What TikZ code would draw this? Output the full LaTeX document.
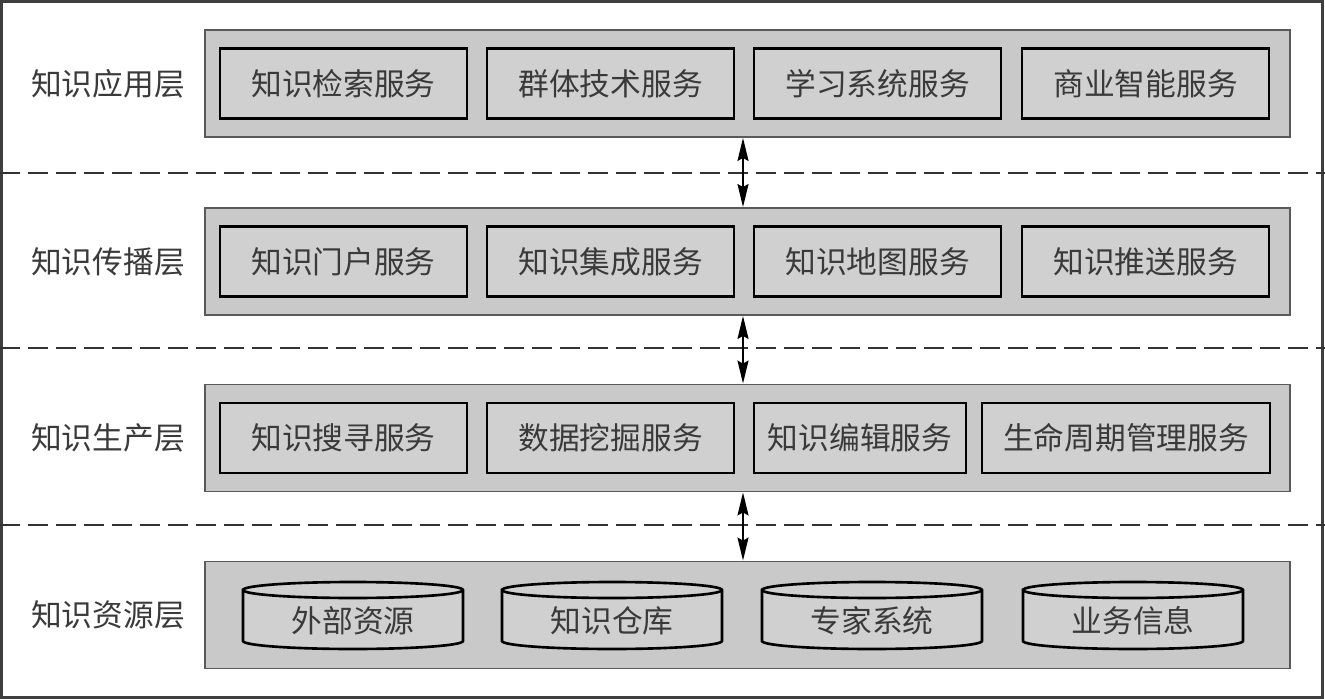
\documentclass[tikz,border=0pt]{standalone}
\usepackage{fontspec}
\setmainfont{Noto Sans CJK SC}
\usepackage{tikz}
\usetikzlibrary{arrows.meta,positioning,calc}
\usepackage{xcolor}
\definecolor{panelgray}{HTML}{C9C9C9}
\definecolor{boxgray}{HTML}{D0D0D0}
\definecolor{edgegray}{HTML}{5A5A5A}
\definecolor{inkgray}{HTML}{3A3A3A}

\begin{document}
\begin{tikzpicture}[x=0.02cm, y=-0.02cm,
  panel/.style={rectangle, draw=edgegray, fill=panelgray, line width=1.1pt,
    minimum width=21.7cm, minimum height=2.14cm, inner sep=0pt},
  svc/.style={rectangle, draw=black, fill=boxgray, line width=1.6pt,
    minimum width=4.94cm, minimum height=1.4cm, inner sep=0pt,
    text=inkgray, font=\fontsize{17.5}{20}\selectfont},
  store/.style={rectangle, inner sep=0pt, yshift=-0.1cm,
    text=inkgray, font=\fontsize{17.5}{20}\selectfont},
  cyl/.style={draw=black, fill=boxgray, line width=1.5pt},
  layer/.style={text=inkgray, font=\fontsize{17.5}{20}\selectfont},
  sep/.style={draw=black!80, line width=0.9pt, dash pattern=on 0.4cm off 0.16cm},
  dblarrow/.style={draw=black, line width=1.1pt,
    {Stealth[length=0.46cm, width=0.22cm, inset=0.06cm]}-{Stealth[length=0.46cm, width=0.22cm, inset=0.06cm]}}
]
  \useasboundingbox (0,0) rectangle (1325,699);
  \draw[edgegray!70!black, line width=1.2pt] (1.5,1.5) rectangle (1322.5,697.5);

  % Layer separators
  \draw[sep] (0,173) -- (1325,173);
  \draw[sep] (0,348) -- (1325,348);
  \draw[sep] (0,525) -- (1325,525);

  % Layer panels
  \node[panel] (p1) at (747.5,83.5) {};
  \node[panel] (p2) at (747.5,261.5) {};
  \node[panel] (p3) at (747.5,438) {};
  \node[panel] (p4) at (747.5,615) {};

  % Layer names
  \node[layer] (l1) at (108,83.5) {知识应用层};
  \node[layer] (l2) at (108,261.5) {知识传播层};
  \node[layer] (l3) at (108,438) {知识生产层};
  \node[layer] (l4) at (108,615) {知识资源层};

  % Application layer
  \node[svc] (a1) at (343.5,83.5) {知识检索服务};
  \node[svc] (a2) at (610.5,83.5) {群体技术服务};
  \node[svc] (a3) at (877.5,83.5) {学习系统服务};
  \node[svc] (a4) at (1145.5,83.5) {商业智能服务};

  % Dissemination layer
  \node[svc] (d1) at (343.5,261.5) {知识门户服务};
  \node[svc] (d2) at (610.5,261.5) {知识集成服务};
  \node[svc] (d3) at (877.5,261.5) {知识地图服务};
  \node[svc] (d4) at (1145.5,261.5) {知识推送服务};

  % Production layer
  \node[svc] (g1) at (343.5,438) {知识搜寻服务};
  \node[svc] (g2) at (610.5,438) {数据挖掘服务};
  \node[svc, minimum width=4.24cm] (g3) at (860,438) {知识编辑服务};
  \node[svc, minimum width=5.76cm] (g4) at (1126,438) {生命周期管理服务};

  % Resource layer (cylinders)
  \coordinate (c1) at (353,615.5);
  \coordinate (c2) at (612,615.5);
  \coordinate (c3) at (872,615.5);
  \coordinate (c4) at (1133,615.5);
  \foreach \c in {c1,c2,c3,c4}{
    \draw[cyl] ($(\c)+(-110,-25.5)$) -- ($(\c)+(-110,25.5)$)
      arc[start angle=180, end angle=360, x radius=2.2cm, y radius=0.16cm]
      -- ($(\c)+(110,-25.5)$)
      arc[start angle=0, end angle=180, x radius=2.2cm, y radius=0.16cm] -- cycle;
    \draw[cyl, fill=none] ($(\c)+(110,-25.5)$)
      arc[start angle=0, end angle=-180, x radius=2.2cm, y radius=0.16cm];
  }
  \node[store] (r1) at (c1) {外部资源};
  \node[store] (r2) at (c2) {知识仓库};
  \node[store] (r3) at (c3) {专家系统};
  \node[store] (r4) at (c4) {业务信息};

  % Links between layers
  \draw[dblarrow] ([xshift=-0.09cm]p1.south) -- ([xshift=-0.09cm]p2.north);
  \draw[dblarrow] ([xshift=-0.09cm]p2.south) -- ([xshift=-0.09cm]p3.north);
  \draw[dblarrow] ([xshift=-0.09cm]p3.south) -- ([xshift=-0.09cm]p4.north);
\end{tikzpicture}
\end{document}
